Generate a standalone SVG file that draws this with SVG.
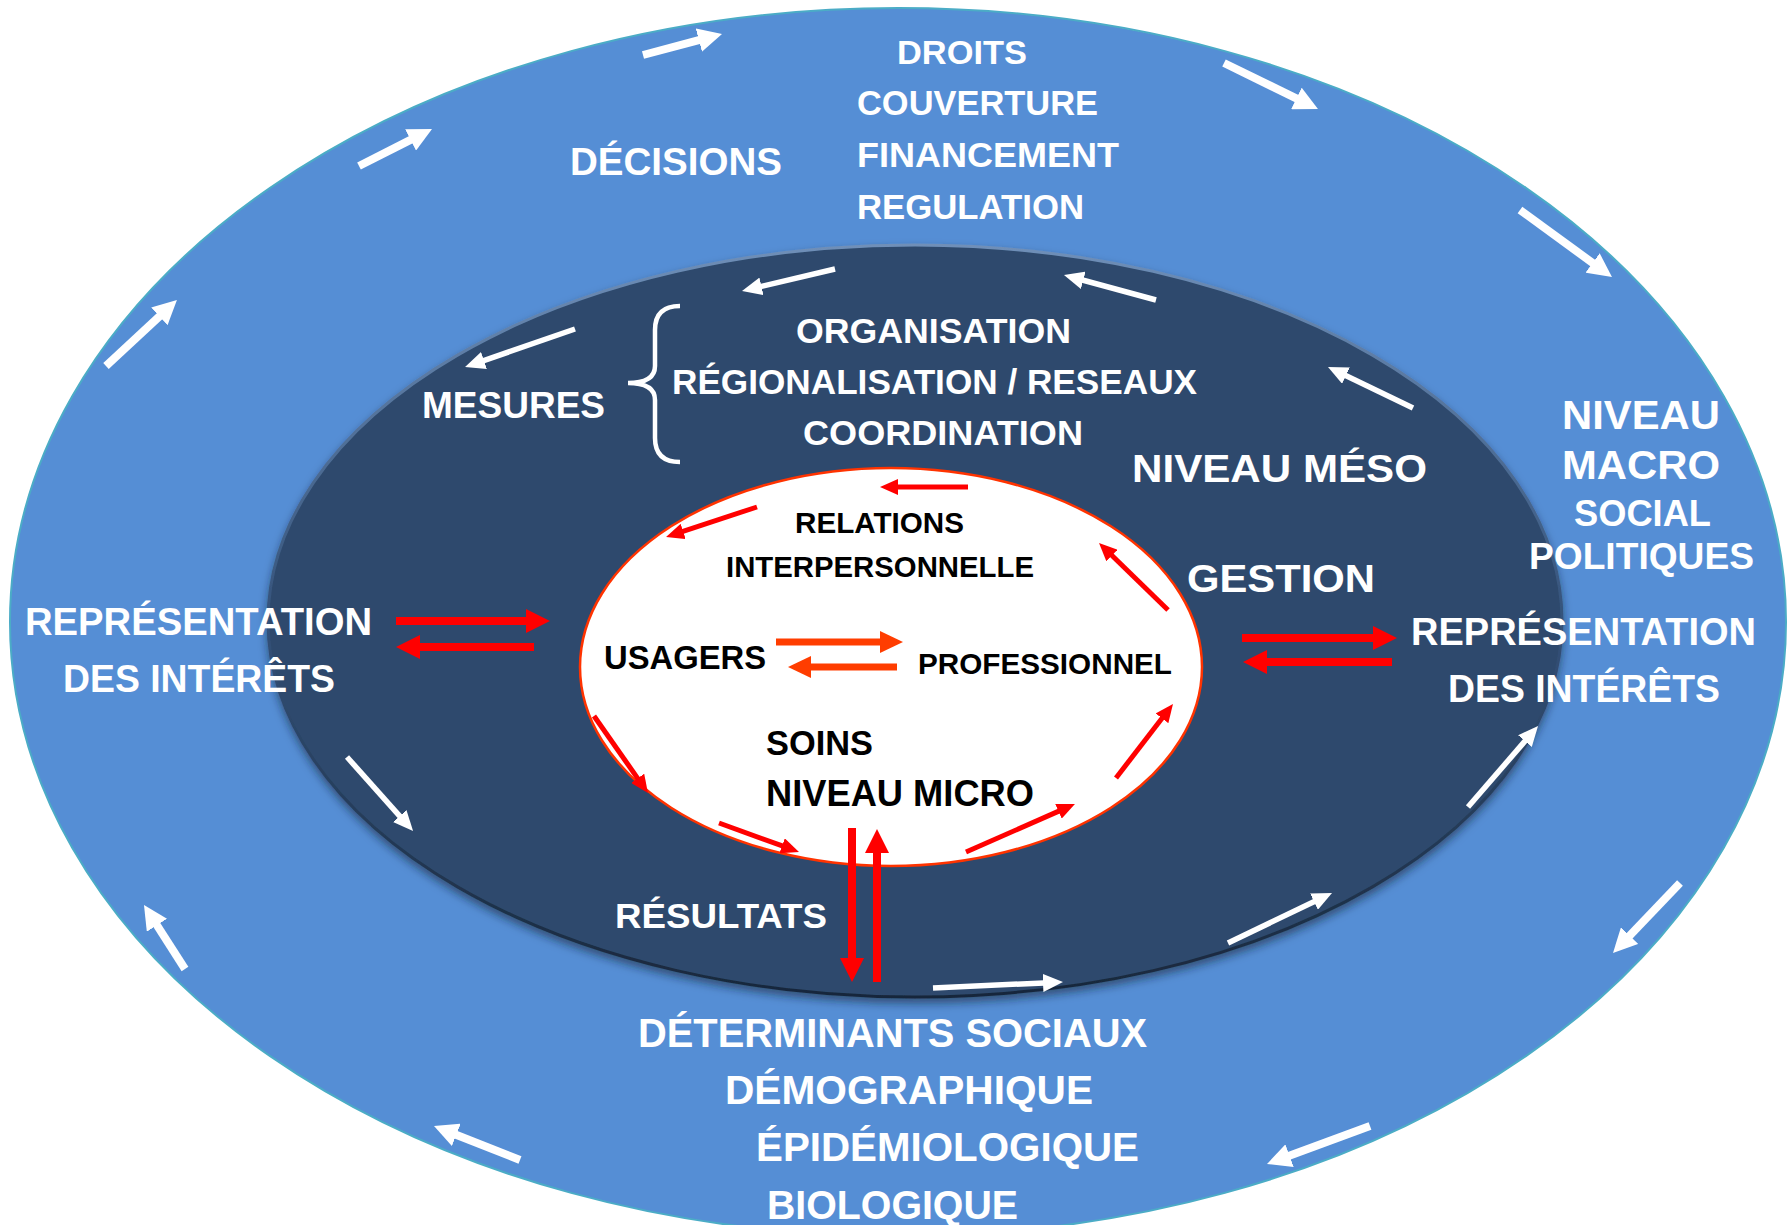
<svg xmlns="http://www.w3.org/2000/svg" width="1789" height="1225" viewBox="0 0 1789 1225">
<style>
.t{font-family:"Liberation Sans",Arial,sans-serif;font-weight:bold;fill:#fff}
.k{fill:#000}
.wo{stroke:#fff;stroke-width:8;fill:none}
.wi{stroke:#fff;stroke-width:5.5;fill:none}
.rb{stroke:#f00;stroke-width:8;fill:none}
.ro{stroke:#ff3d00;stroke-width:7;fill:none}
.rs{stroke:#f00;stroke-width:5;fill:none}
</style>
<defs>
<marker id="hwo" markerUnits="userSpaceOnUse" viewBox="0 0 24 24" markerWidth="24" markerHeight="24" refX="1" refY="12" orient="auto"><path d="M0,0 L24,12 L0,24 z" fill="#fff"/></marker>
<marker id="hwi" markerUnits="userSpaceOnUse" viewBox="0 0 20 18" markerWidth="20" markerHeight="18" refX="1" refY="9" orient="auto"><path d="M0,0 L20,9 L0,18 z" fill="#fff"/></marker>
<marker id="hrb" markerUnits="userSpaceOnUse" viewBox="0 0 24 24" markerWidth="24" markerHeight="24" refX="2" refY="12" orient="auto"><path d="M0,0 L24,12 L0,24 z" fill="#f00"/></marker>
<marker id="hro" markerUnits="userSpaceOnUse" viewBox="0 0 23 22" markerWidth="23" markerHeight="22" refX="1" refY="11" orient="auto"><path d="M0,0 L23,11 L0,22 z" fill="#ff3d00"/></marker>
<marker id="hrs" markerUnits="userSpaceOnUse" viewBox="0 0 18 16" markerWidth="18" markerHeight="16" refX="1" refY="8" orient="auto"><path d="M0,0 L18,8 L0,16 z" fill="#f00"/></marker>
<linearGradient id="bev" x1="0" y1="0" x2="0" y2="1">
<stop offset="0" stop-color="#6f8fb8"/><stop offset="0.5" stop-color="#34527a"/><stop offset="1" stop-color="#18273b"/>
</linearGradient>
<filter id="sh" x="-10%" y="-10%" width="120%" height="125%"><feDropShadow dx="0" dy="5" stdDeviation="4" flood-color="#0b1a2e" flood-opacity="0.55"/></filter>
</defs>

<g id="macro">
<ellipse cx="898" cy="622" rx="888" ry="614" fill="#558ed5" stroke="#4bacc6" stroke-width="2"/>
</g>
<g id="meso">
<ellipse cx="915" cy="621" rx="647" ry="376" fill="#2d4a6d" stroke="url(#bev)" stroke-width="3" filter="url(#sh)"/>
</g>
<g id="micro">
<ellipse cx="891" cy="667" rx="311" ry="199" fill="#fff" stroke="#ff3300" stroke-width="2.5"/>
</g>

<g id="label-macro">
<text class="t" x="897" y="64" font-size="34" textLength="130" lengthAdjust="spacingAndGlyphs">DROITS</text>
<text class="t" x="857" y="115" font-size="35" textLength="241" lengthAdjust="spacingAndGlyphs">COUVERTURE</text>
<text class="t" x="857" y="167" font-size="35" textLength="262" lengthAdjust="spacingAndGlyphs">FINANCEMENT</text>
<text class="t" x="857" y="219" font-size="35" textLength="227" lengthAdjust="spacingAndGlyphs">REGULATION</text>
<text class="t" x="570" y="175" font-size="39" textLength="212" lengthAdjust="spacingAndGlyphs">DÉCISIONS</text>
<text class="t" x="1562" y="429" font-size="41" textLength="158" lengthAdjust="spacingAndGlyphs">NIVEAU</text>
<text class="t" x="1562" y="479" font-size="41" textLength="158" lengthAdjust="spacingAndGlyphs">MACRO</text>
<text class="t" x="1574" y="526" font-size="36" textLength="137" lengthAdjust="spacingAndGlyphs">SOCIAL</text>
<text class="t" x="1529" y="569" font-size="37" textLength="225" lengthAdjust="spacingAndGlyphs">POLITIQUES</text>
<text class="t" x="25" y="635" font-size="38" textLength="347" lengthAdjust="spacingAndGlyphs">REPRÉSENTATION</text>
<text class="t" x="63" y="692" font-size="38" textLength="272" lengthAdjust="spacingAndGlyphs">DES INTÉRÊTS</text>
<text class="t" x="1411" y="645" font-size="38" textLength="345" lengthAdjust="spacingAndGlyphs">REPRÉSENTATION</text>
<text class="t" x="1448" y="702" font-size="38" textLength="272" lengthAdjust="spacingAndGlyphs">DES INTÉRÊTS</text>
<text class="t" x="638" y="1047" font-size="40" textLength="509" lengthAdjust="spacingAndGlyphs">DÉTERMINANTS SOCIAUX</text>
<text class="t" x="725" y="1104" font-size="40" textLength="368" lengthAdjust="spacingAndGlyphs">DÉMOGRAPHIQUE</text>
<text class="t" x="756" y="1161" font-size="40" textLength="383" lengthAdjust="spacingAndGlyphs">ÉPIDÉMIOLOGIQUE</text>
<text class="t" x="767" y="1219" font-size="40" textLength="251" lengthAdjust="spacingAndGlyphs">BIOLOGIQUE</text>
</g>

<g id="label-meso">
<text class="t" x="796" y="343" font-size="35" textLength="275" lengthAdjust="spacingAndGlyphs">ORGANISATION</text>
<text class="t" x="672" y="394" font-size="35" textLength="525" lengthAdjust="spacingAndGlyphs">RÉGIONALISATION / RESEAUX</text>
<text class="t" x="803" y="445" font-size="35" textLength="280" lengthAdjust="spacingAndGlyphs">COORDINATION</text>
<text class="t" x="422" y="418" font-size="36" textLength="183" lengthAdjust="spacingAndGlyphs">MESURES</text>
<path d="M680,306 Q655,306 655,330 L655,366 Q655,383 628,383 Q655,383 655,400 L655,438 Q655,462 680,462" fill="none" stroke="#fff" stroke-width="4.5"/>
<text class="t" x="1132" y="482" font-size="39" textLength="295" lengthAdjust="spacingAndGlyphs">NIVEAU MÉSO</text>
<text class="t" x="1187" y="592" font-size="39" textLength="188" lengthAdjust="spacingAndGlyphs">GESTION</text>
<text class="t" x="615" y="928" font-size="35" textLength="212" lengthAdjust="spacingAndGlyphs">RÉSULTATS</text>
</g>

<g id="label-micro">
<text class="t k" x="795" y="533" font-size="30" textLength="169" lengthAdjust="spacingAndGlyphs">RELATIONS</text>
<text class="t k" x="726" y="577" font-size="30" textLength="308" lengthAdjust="spacingAndGlyphs">INTERPERSONNELLE</text>
<text class="t k" x="604" y="669" font-size="34" textLength="162" lengthAdjust="spacingAndGlyphs">USAGERS</text>
<text class="t k" x="918" y="674" font-size="30" textLength="254" lengthAdjust="spacingAndGlyphs">PROFESSIONNEL</text>
<text class="t k" x="766" y="755" font-size="35" textLength="107" lengthAdjust="spacingAndGlyphs">SOINS</text>
<text class="t k" x="766" y="806" font-size="36" textLength="268" lengthAdjust="spacingAndGlyphs">NIVEAU MICRO</text>
</g>

<g id="connectors">
<g marker-end="url(#hwo)" class="wo">
<line x1="643" y1="55" x2="699.8" y2="39.9"/>
<line x1="359" y1="166" x2="411.5" y2="139.4"/>
<line x1="106" y1="366" x2="160.1" y2="315.7"/>
<line x1="1224" y1="63" x2="1297.3" y2="98.9"/>
<line x1="1520" y1="210" x2="1593.4" y2="263.5"/>
<line x1="1680" y1="883" x2="1628.9" y2="936.4"/>
<line x1="1370" y1="1126" x2="1288.6" y2="1156"/>
<line x1="520" y1="1160" x2="455.4" y2="1134.5"/>
<line x1="185" y1="969" x2="156.4" y2="924.4"/>
</g>
<g marker-end="url(#hwi)" class="wi">
<line x1="835" y1="269" x2="760.5" y2="286.6"/>
<line x1="575" y1="329" x2="483" y2="360.8"/>
<line x1="1156" y1="300" x2="1082.3" y2="280"/>
<line x1="1413" y1="408" x2="1345.1" y2="375.2"/>
<line x1="347" y1="757" x2="400.4" y2="816.8"/>
<line x1="933" y1="988" x2="1044" y2="982.9"/>
<line x1="1228" y1="943" x2="1314.9" y2="901.2"/>
<line x1="1468" y1="807" x2="1525.6" y2="740.4"/>
</g>
<g marker-end="url(#hrb)" class="rb">
<line x1="396" y1="621" x2="528" y2="621"/>
<line x1="534" y1="647" x2="418" y2="647"/>
<line x1="1242" y1="638" x2="1375" y2="638"/>
<line x1="1392" y1="662" x2="1265" y2="662"/>
<line x1="852" y1="828" x2="852" y2="960"/>
<line x1="877" y1="982" x2="877" y2="851"/>
</g>
<g marker-end="url(#hro)" class="ro">
<line x1="776" y1="642" x2="881" y2="642"/>
<line x1="897" y1="667" x2="810" y2="667"/>
</g>
<g marker-end="url(#hrs)" class="rs">
<line x1="968" y1="487" x2="897" y2="487"/>
<line x1="757" y1="507" x2="682.2" y2="531.7"/>
<line x1="594" y1="716" x2="638.2" y2="779.1"/>
<line x1="719" y1="823" x2="783" y2="846.2"/>
<line x1="966" y1="852" x2="1059.4" y2="810.9"/>
<line x1="1116" y1="778" x2="1162.6" y2="717.5"/>
<line x1="1168" y1="610" x2="1111.2" y2="554.8"/>
</g>
</g>
</svg>
